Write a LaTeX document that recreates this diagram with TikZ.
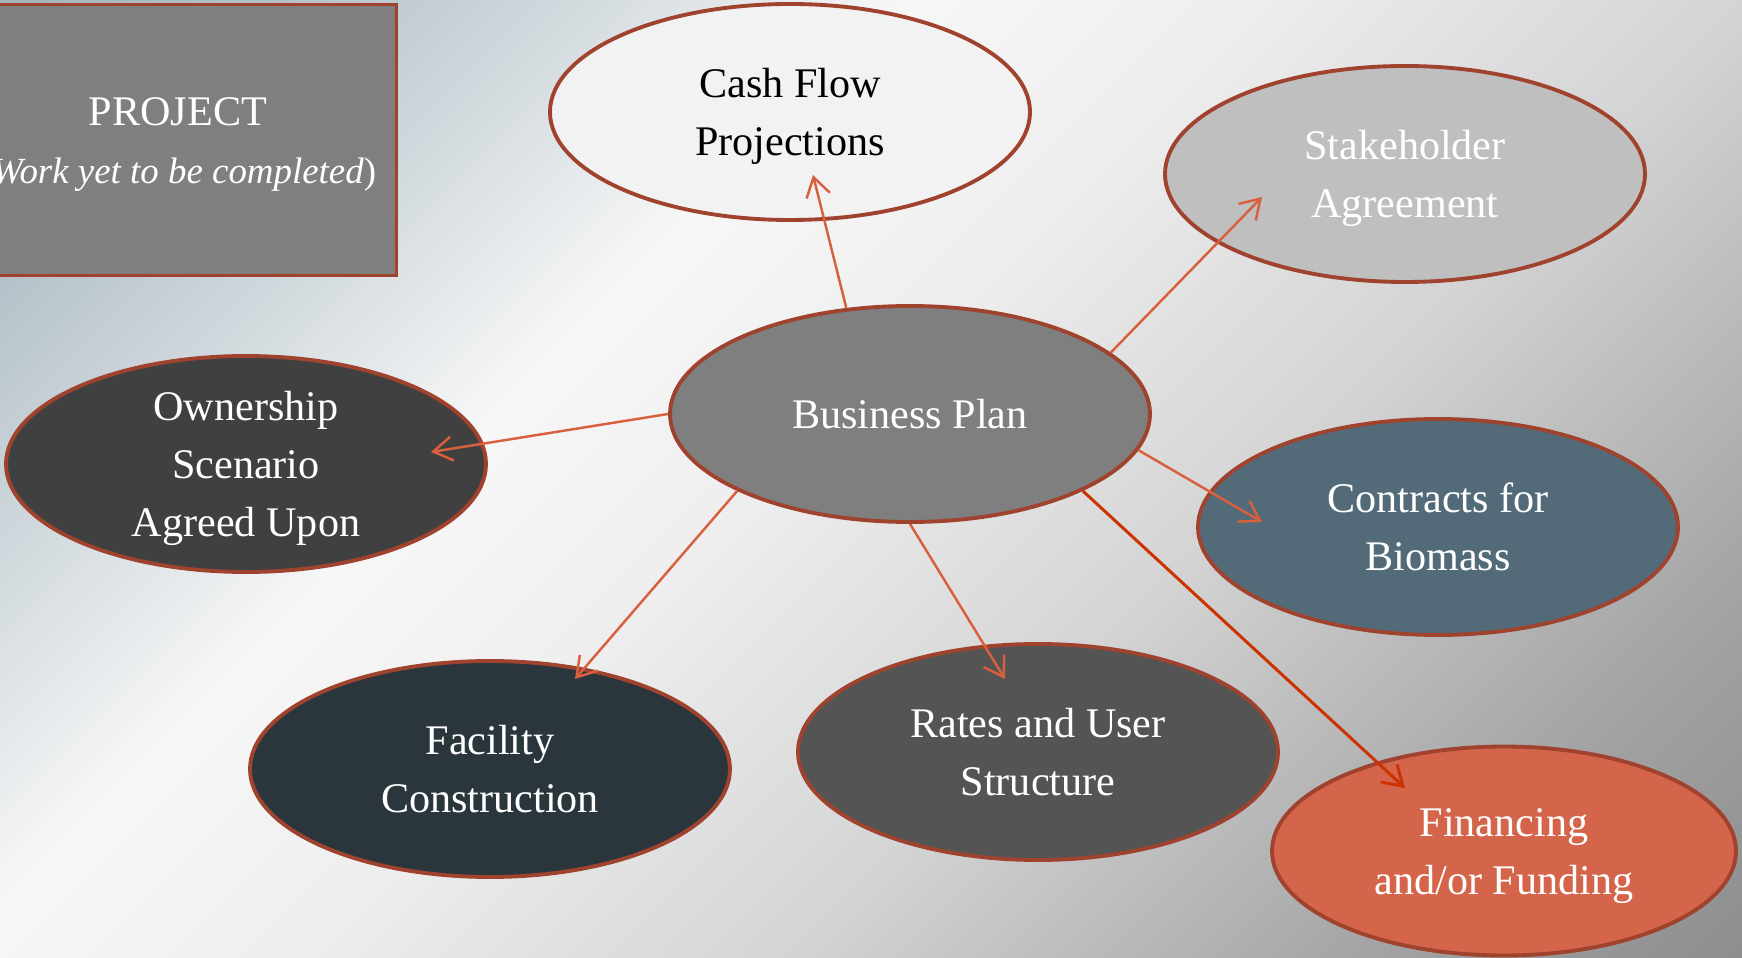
\documentclass[tikz,border=0pt]{standalone}
\usepackage{fontspec}
\setmainfont{Liberation Serif}
\usepackage{tikz}
\usetikzlibrary{shapes.geometric, arrows.meta}
\definecolor{bgA}{HTML}{A6B4BD}
\definecolor{bgB}{HTML}{B4C0C8}
\definecolor{bgC}{HTML}{D6DDE1}
\definecolor{bgD}{HTML}{F7F7F7}
\definecolor{bgE}{HTML}{EEEEEE}
\definecolor{bgF}{HTML}{D4D4D4}
\definecolor{bgG}{HTML}{A3A3A3}
\definecolor{bgH}{HTML}{8E8E8E}
\definecolor{borderRed}{HTML}{A0432E}
\definecolor{arrowRed}{HTML}{D9603F}
\definecolor{arrowDark}{HTML}{CC3300}
\definecolor{cashFill}{HTML}{F2F2F2}
\definecolor{stakeFill}{HTML}{BFBFBF}
\definecolor{planFill}{HTML}{7F7F7F}
\definecolor{ownerFill}{HTML}{404040}
\definecolor{contractFill}{HTML}{536B79}
\definecolor{facilityFill}{HTML}{2A363C}
\definecolor{ratesFill}{HTML}{545454}
\definecolor{fundFill}{HTML}{D4644A}
\pgfdeclarehorizontalshading{slideShading}{100bp}{color(0bp)=(bgA); color(14.6bp)=(bgA); color(20bp)=(bgB); color(27bp)=(bgC); color(33bp)=(bgD); color(40bp)=(bgE); color(50bp)=(bgF); color(62bp)=(bgG); color(69.4bp)=(bgH); color(100bp)=(bgH)}
\newcommand{\bubbleFont}{\fontsize{12}{16.5}\selectfont}
\newcommand{\bubbleStrut}{\rule[-2.7pt]{0pt}{13.6pt}}
\tikzstyle{slide} = [x = 0.1mm, y = -0.1mm]
\tikzstyle{bubbleStyle} = [ellipse, draw=borderRed, line width=1.1pt, minimum width=4.8cm, minimum height=2.16cm, inner xsep=0pt, inner ysep=-4pt, align=center, text=white, font=\bubbleFont]
\tikzstyle{projectStyle} = [rectangle, draw=borderRed, fill=planFill, line width=1.1pt, minimum width=4.37cm, minimum height=2.71cm, align=center, text=white, font=\bubbleFont]
\tikzstyle{linkStyle} = [draw=arrowRed, line width=0.7pt, -{Straight Barb[length=1.9mm, width=2.4mm]}]
\tikzstyle{fundLinkStyle} = [draw=arrowDark, line width=0.85pt, -{Straight Barb[length=1.9mm, width=2.4mm]}]
\newcommand{\bubble}[5][]{\node [bubbleStyle, fill=#3, #1] (#2) at (#4) {\bubbleStrut#5\bubbleStrut};}
\newcommand{\bubbleLink}[4]{
  \coordinate (#2Tip) at ([shift={(#3)}]#2.center);
  \draw [#4] (plan.#1) -- (#2Tip);
}
\begin{document}
\begin{tikzpicture}[slide]
  \useasboundingbox (0,0) rectangle (1742,958);
  \clip (0,0) rectangle (1742,958);
  \shade [shading=slideShading, shading angle=-45] (0,0) rectangle (1742,1742);
  % status box
  \node [projectStyle] (project) at (178,140) {\bubbleStrut PROJECT\\{\fontsize{10.5}{16.5}\selectfont(\textit{Work yet to be completed})}\bubbleStrut};
  % bubbles
  \bubble[text=black]{cash}{cashFill}{790,112}{Cash Flow\\Projections}
  \bubble{stake}{stakeFill}{1405,174}{Stakeholder\\Agreement}
  \bubble{plan}{planFill}{910,414}{Business Plan}
  \bubble{owner}{ownerFill}{246,464}{Ownership\\Scenario\\Agreed Upon}
  \bubble{contract}{contractFill}{1438,527}{Contracts for\\Biomass}
  \bubble{facility}{facilityFill}{490,769}{Facility\\Construction}
  \bubble{rates}{ratesFill}{1038,752}{Rates and User\\Structure}
  \bubble[minimum width=4.64cm, minimum height=2.09cm]{fund}{fundFill}{1504,851}{Financing\\and/or Funding}
  % links
  \bubbleLink{121}{cash}{23,63}{linkStyle}
  \bubbleLink{17}{stake}{-143,23}{linkStyle}
  \bubbleLink{west}{owner}{185,-12}{linkStyle}
  \bubbleLink{-9}{contract}{-176,-5}{linkStyle}
  \bubbleLink{-24}{fund}{-99,-63}{fundLinkStyle}
  \bubbleLink{-90}{rates}{-33,-73}{linkStyle}
  \bubbleLink{-156}{facility}{85,-90}{linkStyle}
\end{tikzpicture}
\end{document}
